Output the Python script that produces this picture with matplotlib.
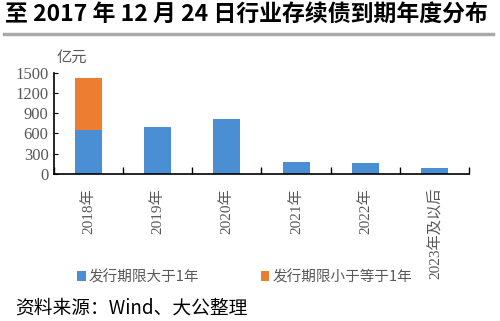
import matplotlib
matplotlib.use('Agg')
import matplotlib.pyplot as plt
from matplotlib.patches import Patch
from matplotlib.lines import Line2D

plt.rcParams['font.family'] = ['Liberation Serif', 'Noto Sans CJK SC', 'DejaVu Sans']

years = ['2018年', '2019年', '2020年', '2021年', '2022年', '2023年及以后']
gt1 = [651, 700, 814, 173, 163, 89]
le1 = [766, 0, 0, 0, 0, 0]
names = ['发行期限大于1年', '发行期限小于等于1年']
title = '至 2017 年 12 月 24 日行业存续债到期年度分布'
source = '资料来源：Wind、大公整理'

blue = '#4a8fd3'
orange = '#ed7d31'
grey = '#595959'

fig = plt.figure(figsize=(5, 3.21), dpi=100)
fig.patch.set_facecolor('white')
ax = fig.add_axes([0.108, 0.458, 0.83, 0.3156])

x = range(len(years))
ax.bar(x, gt1, width=0.39, color=blue, zorder=2)
ax.bar(x, le1, width=0.39, bottom=gt1, color=orange, zorder=2)

ax.set_xlim(-0.5, len(years) - 0.5)
ax.set_ylim(0, 1500)
ax.set_yticks([0, 300, 600, 900, 1200, 1500])
ax.tick_params(axis='y', direction='in', length=3, colors='black', labelcolor=grey, labelsize=12, pad=4)
ax.set_xticks(list(x))
ax.set_xticklabels(years, rotation=90, color=grey, fontsize=11)
ax.tick_params(axis='x', length=0, pad=10)
ax.set_xticks([i - 0.5 for i in range(len(years) + 1)], minor=True)
ax.tick_params(axis='x', which='minor', direction='in', length=5, width=1)
for s in ['top', 'right']:
    ax.spines[s].set_visible(False)
ax.spines['bottom'].set_linewidth(1.2)
ax.spines['left'].set_linewidth(1.2)

fig.text(0.114, 0.822, '亿元', fontsize=11, color=grey, ha='left', va='center',
         family=['Noto Sans CJK SC'])

fig.text(0.01, 0.953, title, fontsize=16.5, fontweight='bold', ha='left', va='center',
         family=['Noto Sans CJK SC'])
fig.add_artist(Line2D([0.008, 0.986], [0.894, 0.894], color='#aaaaaa', lw=2.5))

handles = [Patch(facecolor=blue), Patch(facecolor=orange)]
fig.legend(handles, names, loc='center left', bbox_to_anchor=(0.128, 0.137), ncol=2,
           frameon=False, handlelength=0.6, handleheight=0.6, handletextpad=0.2,
           columnspacing=4.2, prop={'family': ['Noto Sans CJK SC'], 'size': 10.5},
           labelcolor=grey)

fig.text(0.03, 0.04, source, fontsize=13.5, ha='left', va='center',
         family=['Noto Sans CJK SC'])

fig.savefig('out.png', dpi=100)
